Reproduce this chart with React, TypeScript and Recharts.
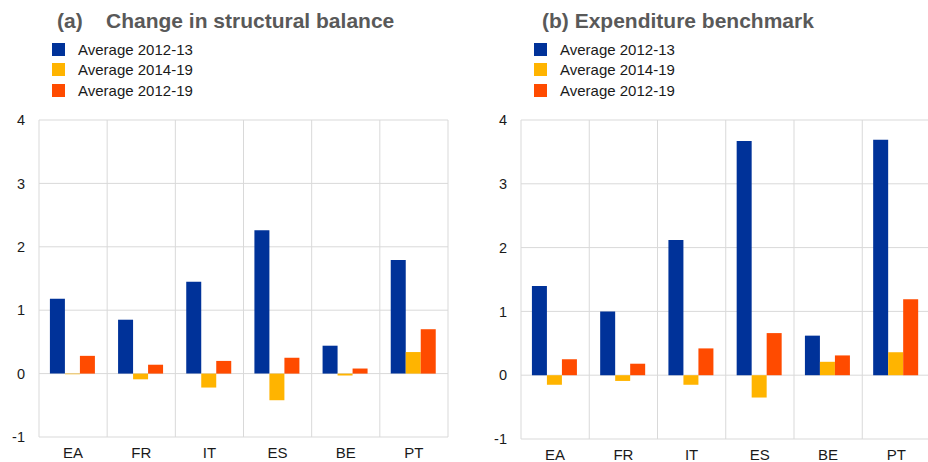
import React from 'react'
import { BarChart, Bar, XAxis, YAxis, CartesianGrid } from 'recharts'

const countries = ['EA', 'FR', 'IT', 'ES', 'BE', 'PT']
const yTicks = [-1, 0, 1, 2, 3, 4]

const seriesNames = ['Average 2012-13', 'Average 2014-19', 'Average 2012-19']
const seriesColors = ['#003299', '#ffb400', '#ff4b00']

// (a) change in structural balance
const sbAvg1213 = [1.18, 0.85, 1.45, 2.26, 0.44, 1.79]
const sbAvg1419 = [-0.01, -0.09, -0.22, -0.42, -0.03, 0.34]
const sbAvg1219 = [0.28, 0.14, 0.2, 0.25, 0.08, 0.7]

// (b) expenditure benchmark
const ebAvg1213 = [1.4, 1.0, 2.12, 3.67, 0.62, 3.69]
const ebAvg1419 = [-0.15, -0.09, -0.15, -0.35, 0.21, 0.36]
const ebAvg1219 = [0.25, 0.18, 0.42, 0.66, 0.31, 1.19]

const FONT = '"Liberation Sans", Arial, sans-serif'
const GRID = '#d9d9d9'

function buildRows(series: number[][]) {
  return countries.map((name, i) => {
    const row: any = { name }
    series.forEach((s, j) => {
      row['s' + j] = s[i]
    })
    return row
  })
}

interface PanelProps {
  title: string
  series: number[][]
  left: number
  width: number
  yAxisWidth: number
  marginRight: number
  xAxisHeight: number
  titleLeft: number
  legendLeft: number
}

function Panel({ title, series, left, width, yAxisWidth, marginRight, xAxisHeight, titleLeft, legendLeft }: PanelProps) {
  const data = buildRows(series)
  return (
    <>
      <div
        style={{
          position: 'absolute',
          left: titleLeft,
          top: 9,
          fontSize: 21,
          fontWeight: 'bold',
          color: '#595959',
          lineHeight: '24px',
          whiteSpace: 'pre',
        }}
      >
        {title}
      </div>
      {seriesNames.map((n, i) => (
        <div key={n} style={{ position: 'absolute', left: legendLeft, top: 39 + i * 20.5, height: 20, display: 'flex', alignItems: 'center' }}>
          <div style={{ width: 13, height: 13, background: seriesColors[i] }} />
          <div style={{ marginLeft: 13, fontSize: 15, color: '#1a1a1a' }}>{n}</div>
        </div>
      ))}
      <div style={{ position: 'absolute', left, top: 0 }}>
        <BarChart
          width={width}
          height={462}
          data={data}
          margin={{ top: 120, right: marginRight, bottom: 0, left: 0 }}
          barCategoryGap="16%"
          barGap={0}
        >
          <CartesianGrid
            stroke={GRID}
            strokeWidth={1}
            verticalCoordinatesGenerator={({ offset }: any) =>
              countries.concat(['']).map((_, i) => offset.left + (i * offset.width) / countries.length)
            }
          />
          <XAxis
            dataKey="name"
            axisLine={false}
            tickLine={false}
            height={xAxisHeight}
            tickSize={6}
            tickMargin={4}
            tick={{ fill: '#1a1a1a', fontSize: 15, fontFamily: FONT }}
          />
          <YAxis
            domain={[-1, 4]}
            ticks={yTicks}
            width={yAxisWidth}
            axisLine={false}
            tickLine={false}
            tickSize={6}
            tickMargin={8}
            tick={{ fill: '#1a1a1a', fontSize: 14.5, fontFamily: FONT }}
          />
          {seriesNames.map((n, i) => (
            <Bar key={n} dataKey={'s' + i} name={n} fill={seriesColors[i]} isAnimationActive={false} />
          ))}
        </BarChart>
      </div>
    </>
  )
}

export default function App() {
  return (
    <div
      style={{
        position: 'absolute',
        left: 0,
        top: 0,
        width: 928,
        height: 462,
        overflow: 'hidden',
        background: '#fff',
        fontFamily: FONT,
      }}
    >
      <Panel
        title={'(a)    Change in structural balance'}
        series={[sbAvg1213, sbAvg1419, sbAvg1219]}
        left={0}
        width={464}
        yAxisWidth={39}
        marginRight={16}
        xAxisHeight={25}
        titleLeft={57}
        legendLeft={52}
      />
      <Panel
        title={'(b) Expenditure benchmark'}
        series={[ebAvg1213, ebAvg1419, ebAvg1219]}
        left={464}
        width={470}
        yAxisWidth={57}
        marginRight={3.5}
        xAxisHeight={23}
        titleLeft={542}
        legendLeft={534}
      />
    </div>
  )
}
